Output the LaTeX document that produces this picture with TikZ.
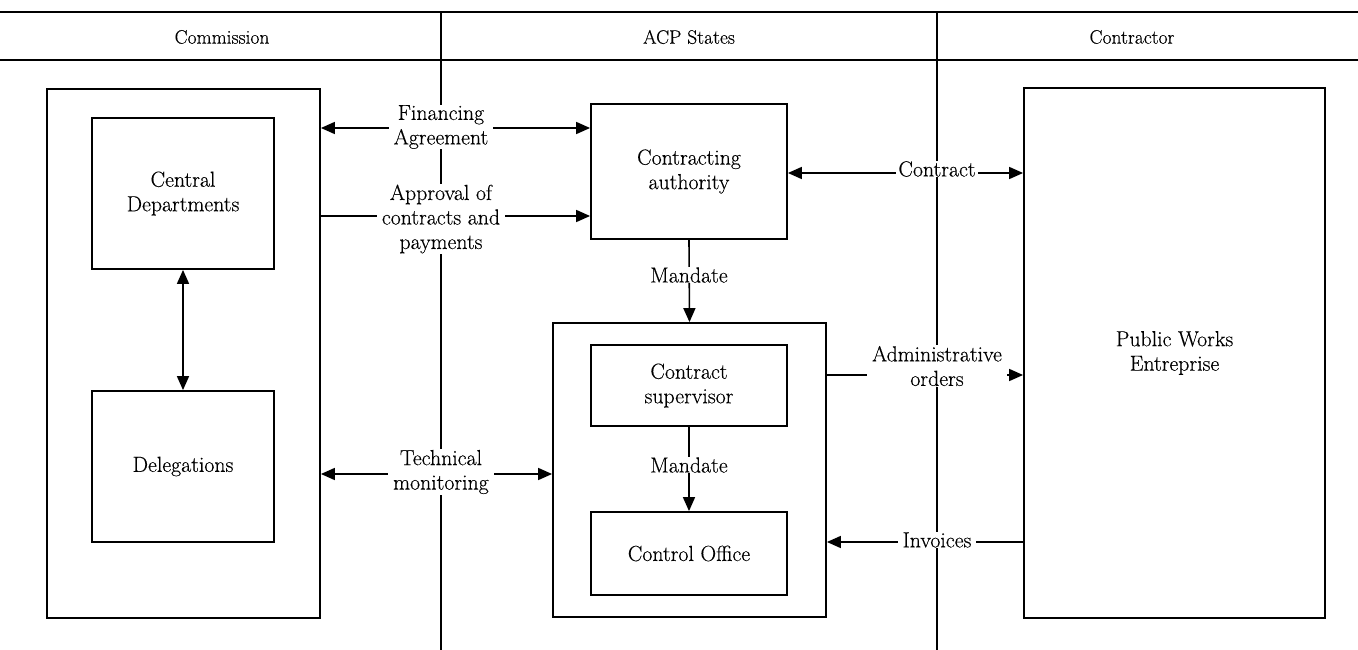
\documentclass[tikz,border=0pt]{standalone}
\usepackage{fontspec}
\setmainfont{Latin Modern Roman}[FakeBold=0.3]
\usetikzlibrary{arrows.meta}
\begin{document}
\begin{tikzpicture}[x=1pt,y=-1pt,
  box/.style={draw, line width=1.8pt, inner sep=0pt, align=center, font=\fontsize{21.8}{24.5}\selectfont},
  lbl/.style={fill=white, inner xsep=5pt, inner ysep=0.5pt, align=center, font=\fontsize{21.8}{24.5}\selectfont},
  hdr/.style={inner sep=0pt, font=\fontsize{19.5}{22}\selectfont},
  conn/.style={line width=1.6pt, -{Triangle[length=14pt,width=12pt]}},
  conn2/.style={line width=1.6pt, {Triangle[length=14pt,width=12pt]}-{Triangle[length=14pt,width=12pt]}},
  divline/.style={line width=1.2pt},
  rule/.style={line width=1.6pt}]
\useasboundingbox (0,0) rectangle (1358,650);
% header
\draw[rule] (0,12) -- (1358,12);
\draw[rule] (0,60) -- (1358,60);
\draw[divline] (441,12) -- (441,650);
\draw[divline] (937,12) -- (937,650);
\node[hdr] (h1) at (222,37) {Commission};
\node[hdr] (h2) at (689,37) {ACP States};
\node[hdr] (h3) at (1132,37) {Contractor};
% boxes
\node[box, fill=white, minimum width=273, minimum height=529] (comm) at (183.5,353.5) {};
\node[box, minimum width=182, minimum height=151] (cd) at (183,193.5) {Central\\Departments};
\node[box, minimum width=182, minimum height=151] (del) at (183,466.5) {Delegations};
\node[box, fill=white, minimum width=196, minimum height=135] (ca) at (689,171.5) {Contracting\\authority};
\node[box, fill=white, minimum width=273, minimum height=294] (acp) at (689.5,470) {};
\node[box, minimum width=196, minimum height=81] (cs) at (689,385.5) {Contract\\supervisor};
\node[box, minimum width=196, minimum height=83] (co) at (689,553.5) {Control Office};
\node[box, fill=white, minimum width=301, minimum height=530] (pw) at (1174.5,353) {Public Works\\Entreprise};
% connectors
\draw[conn2] (cd.south) -- (del.north);
\draw[conn2] (comm.east |- 0,128) -- (ca.west |- 0,128);
\node[lbl] (fa) at (441,127) {Financing\\Agreement};
\draw[conn] (comm.east |- 0,216) -- (ca.west |- 0,216);
\node[lbl] (ap) at (441,219) {Approval of\\contracts and\\payments};
\draw[conn2] (ca.east |- 0,173) -- (pw.west |- 0,173);
\node[lbl, inner xsep=2pt] (ct) at (937,169) {Contract};
\draw[conn] (ca.south) -- (acp.north);
\node[lbl] (m1) at (689,275) {Mandate};
\draw[conn] (cs.south) -- (co.north);
\node[lbl] (m2) at (689,465) {Mandate};
\draw[conn] (acp.east |- 0,375) -- (pw.west |- 0,375);
\node[lbl] (ao) at (937,366) {Administrative\\orders};
\draw[conn] (pw.west |- 0,542) -- (acp.east |- 0,542);
\node[lbl] (inv) at (937,540) {Invoices};
\draw[conn2] (comm.east |- 0,474) -- (acp.west |- 0,474);
\node[lbl] (tm) at (441,472) {Technical\\monitoring};
\end{tikzpicture}
\end{document}
